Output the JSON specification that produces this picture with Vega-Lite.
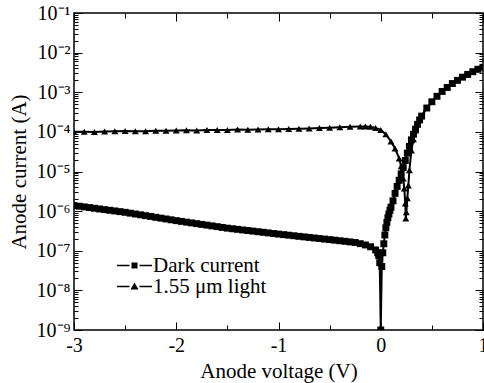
{
  "$schema": "https://vega.github.io/schema/vega-lite/v6.json",
  "width": 409,
  "height": 317,
  "autosize": "none",
  "padding": {"left": 74, "top": 13, "right": 1, "bottom": 53},
  "background": "white",
  "config": {
    "font": "Liberation Serif",
    "view": {"stroke": "black", "strokeWidth": 1.5},
    "axis": {"grid": false, "domain": false, "tickColor": "black", "tickWidth": 1, "labelColor": "black", "labelFont": "Liberation Serif", "titleFont": "Liberation Serif", "titleColor": "black", "titleFontWeight": "normal", "labelOverlap": false, "labelFlush": false},
    "legend": {"labelFont": "Liberation Serif"}
  },
  "data": {"values": [
    {"s":"Dark current","v":-3,"i":1.38e-6},{"s":"Dark current","v":-2.95,"i":1.33e-6},{"s":"Dark current","v":-2.9,"i":1.28e-6},{"s":"Dark current","v":-2.85,"i":1.23e-6},{"s":"Dark current","v":-2.8,"i":1.18e-6},{"s":"Dark current","v":-2.75,"i":1.135e-6},{"s":"Dark current","v":-2.7,"i":1.09e-6},{"s":"Dark current","v":-2.65,"i":1.05e-6},{"s":"Dark current","v":-2.6,"i":1.01e-6},{"s":"Dark current","v":-2.55,"i":9.7e-7},{"s":"Dark current","v":-2.5,"i":9.33e-7},{"s":"Dark current","v":-2.45,"i":8.89e-7},{"s":"Dark current","v":-2.4,"i":8.47e-7},{"s":"Dark current","v":-2.35,"i":8.07e-7},{"s":"Dark current","v":-2.3,"i":7.69e-7},{"s":"Dark current","v":-2.25,"i":7.33e-7},{"s":"Dark current","v":-2.2,"i":6.98e-7},{"s":"Dark current","v":-2.15,"i":6.65e-7},{"s":"Dark current","v":-2.1,"i":6.34e-7},{"s":"Dark current","v":-2.05,"i":6.04e-7},{"s":"Dark current","v":-2,"i":5.75e-7},{"s":"Dark current","v":-1.95,"i":5.51e-7},{"s":"Dark current","v":-1.9,"i":5.27e-7},{"s":"Dark current","v":-1.85,"i":5.05e-7},{"s":"Dark current","v":-1.8,"i":4.83e-7},{"s":"Dark current","v":-1.75,"i":4.62e-7},{"s":"Dark current","v":-1.7,"i":4.43e-7},{"s":"Dark current","v":-1.65,"i":4.24e-7},{"s":"Dark current","v":-1.6,"i":4.06e-7},{"s":"Dark current","v":-1.55,"i":3.88e-7},{"s":"Dark current","v":-1.5,"i":3.72e-7},{"s":"Dark current","v":-1.45,"i":3.59e-7},{"s":"Dark current","v":-1.4,"i":3.47e-7},{"s":"Dark current","v":-1.35,"i":3.35e-7},{"s":"Dark current","v":-1.3,"i":3.24e-7},{"s":"Dark current","v":-1.25,"i":3.13e-7},{"s":"Dark current","v":-1.2,"i":3.02e-7},{"s":"Dark current","v":-1.15,"i":2.92e-7},{"s":"Dark current","v":-1.1,"i":2.82e-7},{"s":"Dark current","v":-1.05,"i":2.72e-7},{"s":"Dark current","v":-1,"i":2.63e-7},{"s":"Dark current","v":-0.95,"i":2.55e-7},{"s":"Dark current","v":-0.9,"i":2.47e-7},{"s":"Dark current","v":-0.85,"i":2.39e-7},{"s":"Dark current","v":-0.8,"i":2.31e-7},{"s":"Dark current","v":-0.75,"i":2.24e-7},{"s":"Dark current","v":-0.7,"i":2.17e-7},{"s":"Dark current","v":-0.65,"i":2.1e-7},{"s":"Dark current","v":-0.6,"i":2.03e-7},{"s":"Dark current","v":-0.55,"i":1.97e-7},{"s":"Dark current","v":-0.5,"i":1.91e-7},{"s":"Dark current","v":-0.45,"i":1.85e-7},{"s":"Dark current","v":-0.4,"i":1.79e-7},{"s":"Dark current","v":-0.35,"i":1.73e-7},{"s":"Dark current","v":-0.3,"i":1.67e-7},{"s":"Dark current","v":-0.25,"i":1.62e-7},{"s":"Dark current","v":-0.2,"i":1.51e-7},{"s":"Dark current","v":-0.15,"i":1.4e-7},{"s":"Dark current","v":-0.1,"i":1.26e-7},{"s":"Dark current","v":-0.05,"i":1.05e-7},{"s":"Dark current","v":-0.03,"i":8.9e-8},{"s":"Dark current","v":-0.02,"i":7.6e-8},{"s":"Dark current","v":-0.01,"i":5e-8},{"s":"Dark current","v":0,"i":1e-9},{"s":"Dark current","v":0.01,"i":4e-8},{"s":"Dark current","v":0.02,"i":8.9e-8},{"s":"Dark current","v":0.03,"i":1.5e-7},{"s":"Dark current","v":0.04,"i":2.5e-7},{"s":"Dark current","v":0.05,"i":3.8e-7},{"s":"Dark current","v":0.06,"i":5.2e-7},{"s":"Dark current","v":0.07,"i":6.8e-7},{"s":"Dark current","v":0.08,"i":8.5e-7},{"s":"Dark current","v":0.09,"i":1.05e-6},{"s":"Dark current","v":0.1,"i":1.26e-6},{"s":"Dark current","v":0.12,"i":1.82e-6},{"s":"Dark current","v":0.14,"i":2.8e-6},{"s":"Dark current","v":0.16,"i":4.2e-6},{"s":"Dark current","v":0.18,"i":6e-6},{"s":"Dark current","v":0.2,"i":8.7e-6},{"s":"Dark current","v":0.22,"i":1.26e-5},{"s":"Dark current","v":0.24,"i":1.9e-5},{"s":"Dark current","v":0.26,"i":2.9e-5},{"s":"Dark current","v":0.28,"i":4.3e-5},{"s":"Dark current","v":0.3,"i":6.3e-5},{"s":"Dark current","v":0.32,"i":8.7e-5},{"s":"Dark current","v":0.34,"i":1.17e-4},{"s":"Dark current","v":0.36,"i":1.55e-4},{"s":"Dark current","v":0.38,"i":2e-4},{"s":"Dark current","v":0.4,"i":2.5e-4},{"s":"Dark current","v":0.45,"i":4e-4},{"s":"Dark current","v":0.5,"i":5.75e-4},{"s":"Dark current","v":0.55,"i":7.9e-4},{"s":"Dark current","v":0.6,"i":1.05e-3},{"s":"Dark current","v":0.65,"i":1.32e-3},{"s":"Dark current","v":0.7,"i":1.66e-3},{"s":"Dark current","v":0.75,"i":2e-3},{"s":"Dark current","v":0.8,"i":2.4e-3},{"s":"Dark current","v":0.85,"i":2.82e-3},{"s":"Dark current","v":0.9,"i":3.3e-3},{"s":"Dark current","v":0.95,"i":3.8e-3},{"s":"Dark current","v":1,"i":4.27e-3},
    {"s":"1.55 μm light","v":-3,"i":1e-4},{"s":"1.55 μm light","v":-2.9,"i":1.01e-4},{"s":"1.55 μm light","v":-2.8,"i":1e-4},{"s":"1.55 μm light","v":-2.7,"i":1.02e-4},{"s":"1.55 μm light","v":-2.6,"i":1.03e-4},{"s":"1.55 μm light","v":-2.5,"i":1.05e-4},{"s":"1.55 μm light","v":-2.4,"i":1.04e-4},{"s":"1.55 μm light","v":-2.3,"i":1.03e-4},{"s":"1.55 μm light","v":-2.2,"i":1.06e-4},{"s":"1.55 μm light","v":-2.1,"i":1.07e-4},{"s":"1.55 μm light","v":-2,"i":1.08e-4},{"s":"1.55 μm light","v":-1.9,"i":1.1e-4},{"s":"1.55 μm light","v":-1.8,"i":1.09e-4},{"s":"1.55 μm light","v":-1.7,"i":1.11e-4},{"s":"1.55 μm light","v":-1.6,"i":1.12e-4},{"s":"1.55 μm light","v":-1.5,"i":1.12e-4},{"s":"1.55 μm light","v":-1.4,"i":1.14e-4},{"s":"1.55 μm light","v":-1.3,"i":1.13e-4},{"s":"1.55 μm light","v":-1.2,"i":1.15e-4},{"s":"1.55 μm light","v":-1.1,"i":1.17e-4},{"s":"1.55 μm light","v":-1,"i":1.16e-4},{"s":"1.55 μm light","v":-0.9,"i":1.18e-4},{"s":"1.55 μm light","v":-0.8,"i":1.2e-4},{"s":"1.55 μm light","v":-0.7,"i":1.22e-4},{"s":"1.55 μm light","v":-0.6,"i":1.25e-4},{"s":"1.55 μm light","v":-0.5,"i":1.28e-4},{"s":"1.55 μm light","v":-0.4,"i":1.31e-4},{"s":"1.55 μm light","v":-0.3,"i":1.34e-4},{"s":"1.55 μm light","v":-0.2,"i":1.36e-4},{"s":"1.55 μm light","v":-0.15,"i":1.36e-4},{"s":"1.55 μm light","v":-0.1,"i":1.34e-4},{"s":"1.55 μm light","v":-0.05,"i":1.26e-4},{"s":"1.55 μm light","v":0,"i":1.12e-4},{"s":"1.55 μm light","v":0.05,"i":8.65e-5},{"s":"1.55 μm light","v":0.1,"i":5.75e-5},{"s":"1.55 μm light","v":0.14,"i":3.83e-5},{"s":"1.55 μm light","v":0.18,"i":2.14e-5},{"s":"1.55 μm light","v":0.2,"i":1.35e-5},{"s":"1.55 μm light","v":0.22,"i":6.7e-6},{"s":"1.55 μm light","v":0.23,"i":3.74e-6},{"s":"1.55 μm light","v":0.24,"i":1.56e-6},{"s":"1.55 μm light","v":0.245,"i":6.5e-7},{"s":"1.55 μm light","v":0.25,"i":9.3e-7},{"s":"1.55 μm light","v":0.26,"i":2.1e-6},{"s":"1.55 μm light","v":0.27,"i":4.46e-6},{"s":"1.55 μm light","v":0.28,"i":1.07e-5},{"s":"1.55 μm light","v":0.3,"i":3.4e-5},{"s":"1.55 μm light","v":0.32,"i":6.5e-5},{"s":"1.55 μm light","v":0.34,"i":1.09e-4},{"s":"1.55 μm light","v":0.36,"i":1.6e-4},{"s":"1.55 μm light","v":0.4,"i":2.5e-4},{"s":"1.55 μm light","v":0.45,"i":4.05e-4},{"s":"1.55 μm light","v":0.5,"i":5.8e-4},{"s":"1.55 μm light","v":0.55,"i":8e-4},{"s":"1.55 μm light","v":0.6,"i":1.06e-3},{"s":"1.55 μm light","v":0.65,"i":1.33e-3},{"s":"1.55 μm light","v":0.7,"i":1.67e-3},{"s":"1.55 μm light","v":0.75,"i":2.02e-3},{"s":"1.55 μm light","v":0.8,"i":2.42e-3},{"s":"1.55 μm light","v":0.85,"i":2.85e-3},{"s":"1.55 μm light","v":0.9,"i":3.32e-3},{"s":"1.55 μm light","v":0.95,"i":3.82e-3},{"s":"1.55 μm light","v":1,"i":4.3e-3}
  ]},
  "resolve": {"axis": {"x": "independent", "y": "independent"}, "scale": {"shape": "independent"}},
  "layer": [
    {
      "mark": {"type": "line", "color": "black", "strokeWidth": 2, "clip": true},
      "encoding": {
        "x": {"field": "v", "type": "quantitative", "scale": {"domain": [-3, 1], "nice": false, "zero": false},
          "axis": {"orient": "bottom", "title": "Anode voltage (V)", "titleFontSize": 21, "titlePadding": 2, "labelFontSize": 20, "labelPadding": 13,
            "values": [-3, -2.5, -2, -1.5, -1, -0.5, 0, 0.5, 1],
            "labelExpr": "datum.value % 1 == 0 ? toString(datum.value) : ''",
            "tickSize": {"condition": {"test": "datum.value % 1 == 0", "value": -8}, "value": -5}}},
        "y": {"field": "i", "type": "quantitative", "scale": {"type": "log", "domain": [1e-9, 0.1], "nice": false},
          "axis": {"orient": "left", "title": "Anode current (A)", "titleFontSize": 21, "titlePadding": 7, "labelFontSize": 20, "labelPadding": 12,
            "values": [1e-9,2e-9,3e-9,4e-9,5e-9,6e-9,7e-9,8e-9,9e-9,1e-8,2e-8,3e-8,4e-8,5e-8,6e-8,7e-8,8e-8,9e-8,1e-7,2e-7,3e-7,4e-7,5e-7,6e-7,7e-7,8e-7,9e-7,1e-6,2e-6,3e-6,4e-6,5e-6,6e-6,7e-6,8e-6,9e-6,1e-5,2e-5,3e-5,4e-5,5e-5,6e-5,7e-5,8e-5,9e-5,1e-4,2e-4,3e-4,4e-4,5e-4,6e-4,7e-4,8e-4,9e-4,1e-3,2e-3,3e-3,4e-3,5e-3,6e-3,7e-3,8e-3,9e-3,1e-2,2e-2,3e-2,4e-2,5e-2,6e-2,7e-2,8e-2,9e-2,1e-1],
            "labelExpr": "abs(log(datum.value)/LN10 - round(log(datum.value)/LN10)) < 0.001 ? '10⁻' + substring('⁰¹²³⁴⁵⁶⁷⁸⁹', -round(log(datum.value)/LN10), 1 - round(log(datum.value)/LN10)) : ''",
            "tickSize": {"condition": {"test": "abs(log(datum.value)/LN10 - round(log(datum.value)/LN10)) < 0.001", "value": -8}, "value": -4}}},
        "detail": {"field": "s"}
      }
    },
    {
      "mark": {"type": "point", "filled": true, "color": "black", "opacity": 1, "size": 48, "clip": true},
      "encoding": {
        "x": {"field": "v", "type": "quantitative",
          "axis": {"orient": "top", "title": null, "labels": false,
            "values": [-3, -2.5, -2, -1.5, -1, -0.5, 0, 0.5, 1],
            "tickSize": {"condition": {"test": "datum.value % 1 == 0", "value": -8}, "value": -5}}},
        "y": {"field": "i", "type": "quantitative",
          "axis": {"orient": "right", "title": null, "labels": false,
            "values": [1e-9,2e-9,3e-9,4e-9,5e-9,6e-9,7e-9,8e-9,9e-9,1e-8,2e-8,3e-8,4e-8,5e-8,6e-8,7e-8,8e-8,9e-8,1e-7,2e-7,3e-7,4e-7,5e-7,6e-7,7e-7,8e-7,9e-7,1e-6,2e-6,3e-6,4e-6,5e-6,6e-6,7e-6,8e-6,9e-6,1e-5,2e-5,3e-5,4e-5,5e-5,6e-5,7e-5,8e-5,9e-5,1e-4,2e-4,3e-4,4e-4,5e-4,6e-4,7e-4,8e-4,9e-4,1e-3,2e-3,3e-3,4e-3,5e-3,6e-3,7e-3,8e-3,9e-3,1e-2,2e-2,3e-2,4e-2,5e-2,6e-2,7e-2,8e-2,9e-2,1e-1],
            "tickSize": {"condition": {"test": "abs(log(datum.value)/LN10 - round(log(datum.value)/LN10)) < 0.001", "value": -8}, "value": -4}}},
        "shape": {"field": "s", "type": "nominal",
          "scale": {"domain": ["Dark current", "1.55 μm light"], "range": ["square", "triangle-up"]},
          "legend": null}
      }
    },
    {
      "transform": [{"filter": "false"}],
      "mark": {"type": "point", "filled": true, "color": "black", "opacity": 1, "size": 100},
      "encoding": {
        "x": {"field": "v", "type": "quantitative", "axis": null},
        "y": {"field": "i", "type": "quantitative", "axis": null},
        "shape": {"field": "s", "type": "nominal",
          "scale": {"domain": ["Dark current", "1.55 μm light"], "range": ["M-3.5,-0.15H-1V0.15H-3.5Z M-0.6,-0.6H0.6V0.6H-0.6Z M1,-0.15H3.5V0.15H1Z", "M-3.5,-0.15H-1V0.15H-3.5Z M0,-0.8L0.8,0.62H-0.8Z M1,-0.15H3.5V0.15H1Z"]},
          "legend": {"orient": "none", "legendX": 50, "legendY": 242, "title": null, "labelFontSize": 21, "labelColor": "black", "labelOffset": 8, "rowPadding": -10, "symbolSize": 100, "symbolFillColor": "black", "symbolStrokeColor": "transparent", "symbolOpacity": 1}
        }
      }
    }
  ]
}
